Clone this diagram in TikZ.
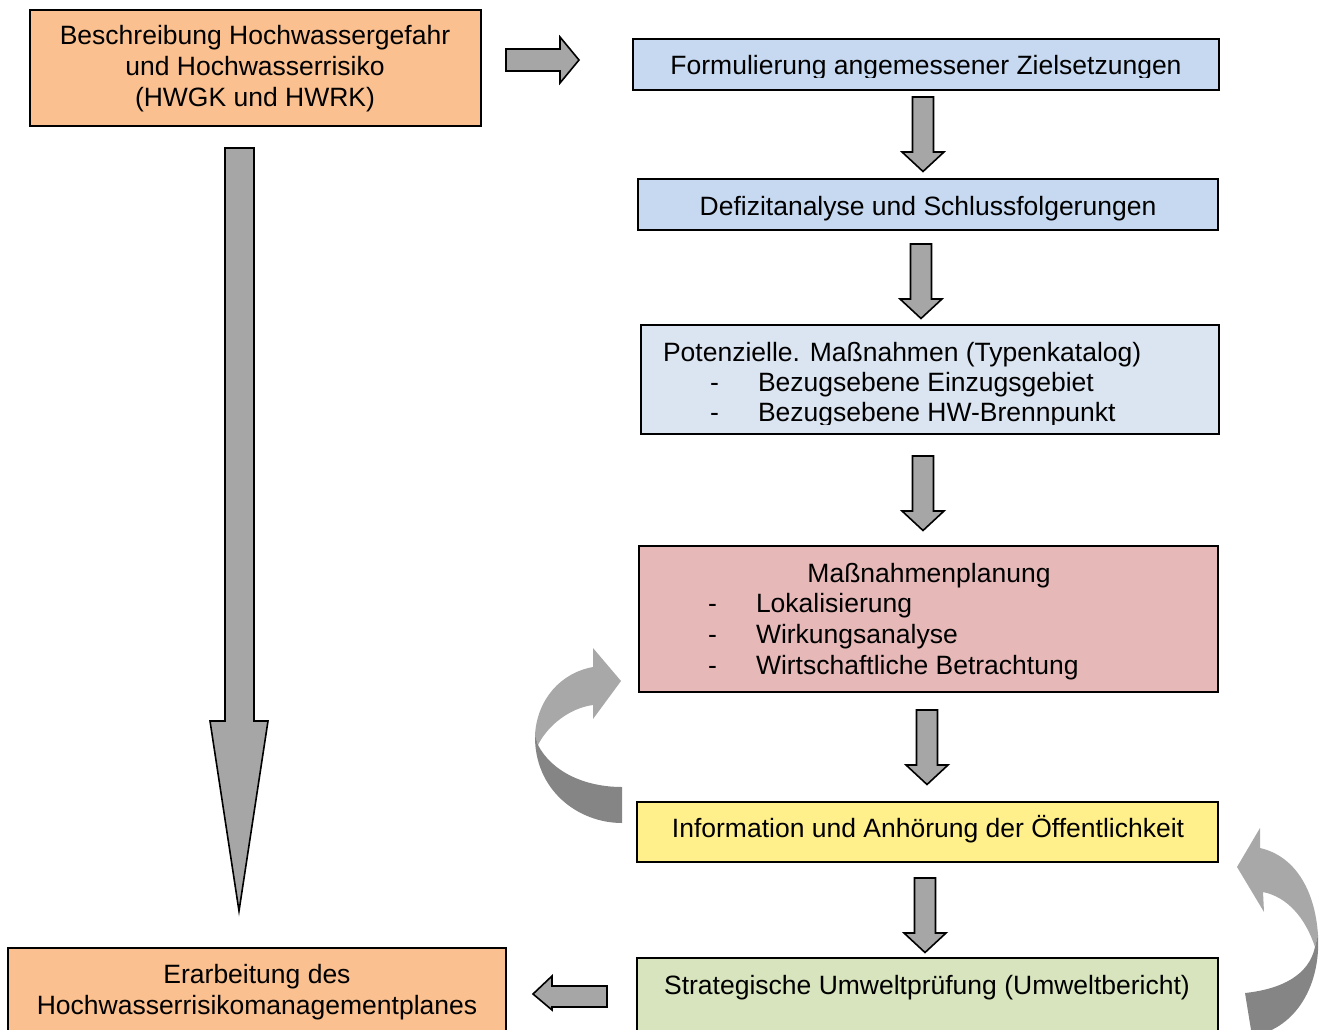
\documentclass[tikz,border=0pt]{standalone}
\usepackage{fontspec}
\setmainfont{Liberation Sans}
\definecolor{cOrange}{HTML}{FAC090}
\definecolor{cBlue}{HTML}{C6D9F1}
\definecolor{cBlueL}{HTML}{DBE5F1}
\definecolor{cPink}{HTML}{E6B9B8}
\definecolor{cYellow}{HTML}{FFF08C}
\definecolor{cGreen}{HTML}{D7E4BD}
\definecolor{cArrow}{HTML}{A6A6A6}
\definecolor{cCurveL}{HTML}{A8A8A8}
\definecolor{cCurveD}{HTML}{858585}
\tikzset{
  box/.style={draw=black, line width=1.5pt, inner sep=0pt, outer sep=0pt},
  txt/.style={inner sep=0pt, outer sep=0pt, font=\fontsize{26.5}{30}\selectfont},
  blockarrow/.style={draw=black, fill=cArrow, line width=1.6pt, line join=miter},
  pics/dnarrow/.style={code={
    \draw[blockarrow] (-10.5,0) -- (-10.5,55) -- (-21,55) -- (0,74.5) -- (21,55) -- (10.5,55) -- (10.5,0) -- cycle;}}
}
\begin{document}
\begin{tikzpicture}[x=1pt,y=-1pt]
\useasboundingbox (0,0) rectangle (1327,1030);
\clip (0,0) rectangle (1327,1030);

% boxes
\node[box, fill=cOrange, minimum width=451pt, minimum height=116pt] (A) at (255.5,68) {};
\node[box, fill=cBlue, minimum width=586pt, minimum height=51pt] (B) at (926,64.5) {};
\node[box, fill=cBlue, minimum width=580pt, minimum height=51pt] (C) at (928,204.5) {};
\node[box, fill=cBlueL, minimum width=578pt, minimum height=109pt] (D) at (930,379.5) {};
\node[box, fill=cPink, minimum width=579pt, minimum height=146pt] (E) at (928.5,619) {};
\node[box, fill=cYellow, minimum width=581pt, minimum height=60pt] (F) at (927.5,832) {};
\node[box, fill=cGreen, minimum width=581pt, minimum height=100pt] (G) at (927.5,1008) {};
\node[box, fill=cOrange, minimum width=498pt, minimum height=110pt] (H) at (257,1003) {};

% texts
\node[txt, anchor=base] (a1) at (255,45) {Beschreibung Hochwassergefahr};
\node[txt, anchor=base] (a2) at (255,76) {und Hochwasserrisiko};
\node[txt, anchor=base] (a3) at (255,107) {(HWGK und HWRK)};

\begin{scope}
\clip (633,39) rectangle (1219,78);
\node[txt, anchor=base] (b1) at (926,75) {Formulierung angemessener Zielsetzungen};
\end{scope}

\node[txt, anchor=base] (c1) at (928,215) {Defizitanalyse und Schlussfolgerungen};

\begin{scope}
\clip (641,325) rectangle (1219,424.5);
\node[txt, anchor=base west] (d1) at (663,361) {Potenzielle. Maßnahmen (Typenkatalog)};
\node[txt, anchor=base west] (d2m) at (710,391) {-};
\node[txt, anchor=base west] (d2) at (758,391) {Bezugsebene Einzugsgebiet};
\node[txt, anchor=base west] (d3m) at (710,421.5) {-};
\node[txt, anchor=base west] (d3) at (758,421.5) {Bezugsebene HW-Brennpunkt};
\end{scope}

\node[txt, anchor=base] (e1) at (929,582) {Maßnahmenplanung};
\node[txt, anchor=base west] (e2m) at (708,612) {-};
\node[txt, anchor=base west] (e2) at (756,612) {Lokalisierung};
\node[txt, anchor=base west] (e3m) at (708,643) {-};
\node[txt, anchor=base west] (e3) at (756,643) {Wirkungsanalyse};
\node[txt, anchor=base west] (e4m) at (708,674) {-};
\node[txt, anchor=base west] (e4) at (756,674) {Wirtschaftliche Betrachtung};

\node[txt, anchor=base] (f1) at (928,837) {Information und Anhörung der Öffentlichkeit};
\node[txt, anchor=base] (g1) at (927,994) {Strategische Umweltprüfung (Umweltbericht)};

\node[txt, anchor=base] (h1) at (257,983) {Erarbeitung des};
\node[txt, anchor=base] (h2) at (257,1014) {Hochwasserrisikomanagementplanes};

% block arrows
\draw[blockarrow] (506,49) -- (560,49) -- (560,37) -- (579,60) -- (560,83) -- (560,71) -- (506,71) -- cycle;
\pic at (923,97) {dnarrow};
\pic at (921,244) {dnarrow};
\pic at (923,456) {dnarrow};
\pic at (927,710) {dnarrow};
\pic at (925,878) {dnarrow};
\draw[blockarrow] (225,148) -- (254,148) -- (254,721) -- (268,721) -- (239,911) -- (210,721) -- (225,721) -- cycle;
\draw[blockarrow] (607,986) -- (552,986) -- (552,976) -- (533,994) -- (552,1010) -- (552,1007) -- (607,1007) -- cycle;

% curved arrow left (from F back to E)
\fill[cCurveL] (593,667) .. controls (560,673) and (537,700) .. (535,735) -- (538,745) .. controls (548,725) and (570,708) .. (593,705) -- (593,719) -- (621,681) -- (593,648) -- cycle;
\fill[cCurveD] (535,735) .. controls (534,790) and (578,823) .. (622,823) -- (622,787) .. controls (585,787) and (552,772) .. (538,745) -- cycle;

% curved arrow right (from G back to F)
\fill[cCurveL] (1260,848) .. controls (1295,856) and (1315,890) .. (1318,935) -- (1315,947) .. controls (1305,917) and (1287,897) .. (1263,892) -- (1264,912) -- (1237,867) -- (1260,828) -- cycle;
\fill[cCurveD] (1318,935) .. controls (1321,990) and (1292,1030) .. (1252,1036) -- (1245,993) .. controls (1282,989) and (1309,975) .. (1315,947) -- cycle;
\end{tikzpicture}
\end{document}
